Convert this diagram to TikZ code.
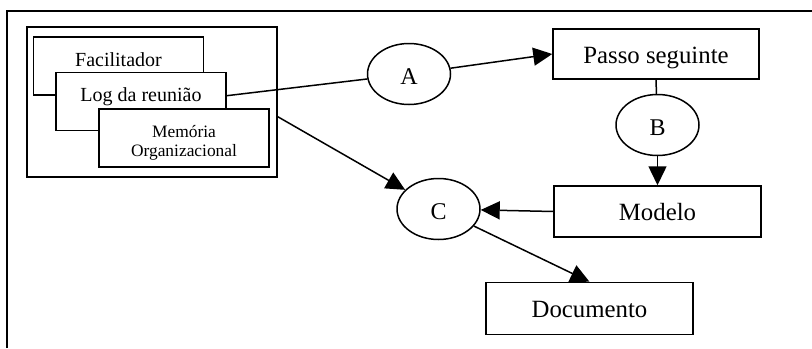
\documentclass[tikz,border=0pt]{standalone}
\usepackage{fontspec}
\setmainfont{Liberation Serif}
\usetikzlibrary{arrows.meta,shapes.geometric}
\begin{document}
\begin{tikzpicture}[x=0.5pt, y=-0.5pt, line width=0.75pt,
  box/.style={draw, inner sep=0pt, text height=11pt, text depth=1.7pt, font=\fontsize{12.4}{14}\selectfont},
  oval/.style={draw, ellipse, inner sep=0pt, minimum width=41.5pt, minimum height=30.5pt, text height=11pt, text depth=1pt, font=\fontsize{12}{14}\selectfont},
  smallbox/.style={draw, fill=white, inner sep=0pt, minimum width=85pt, minimum height=29pt, text height=4pt, text depth=4pt, font=\fontsize{10}{12}\selectfont},
  arr/.style={-{Triangle[length=9.5pt, width=9pt]}}]
\useasboundingbox (0,0) rectangle (812,348);
\draw[line width=1pt] (7,348) -- (7,11) -- (812,11);
\node[draw, inner sep=0pt, minimum width=125pt, minimum height=75pt] (grupo) at (152,102) {};
\node[smallbox] (facilitador) at (118.5,66) {Facilitador};
\node[smallbox] (log) at (141,101.5) {Log da reunião};
\node[smallbox, align=center, text height=18pt, text depth=0pt, font=\fontsize{8.7}{9.2}\selectfont] (memoria) at (184,138) {Memória\\Organizacional};
\node[oval] (A) at (409,74) {A};
\node[box, minimum width=103pt, minimum height=25pt] (passo) at (656,54) {Passo seguinte};
\node[oval] (B) at (657.5,125) {B};
\node[box, minimum width=103.5pt, minimum height=25.5pt] (modelo) at (657.5,211.5) {Modelo};
\node[oval] (C) at (438.5,209) {C};
\node[box, minimum width=103.5pt, minimum height=26pt] (documento) at (589.5,308.5) {Documento};
\draw ([yshift=2.9pt]log.east) -- (A);
\draw[arr] (A) -- (passo.west);
\draw (passo.south) -- (B);
\draw[arr] (B.south) -- (B.south |- modelo.north);
\draw[arr] (modelo.west) -- (C);
\draw[arr] ([yshift=-7.35pt]grupo.east) -- (C);
\draw[arr] (C) -- (documento.north);
\end{tikzpicture}
\end{document}
